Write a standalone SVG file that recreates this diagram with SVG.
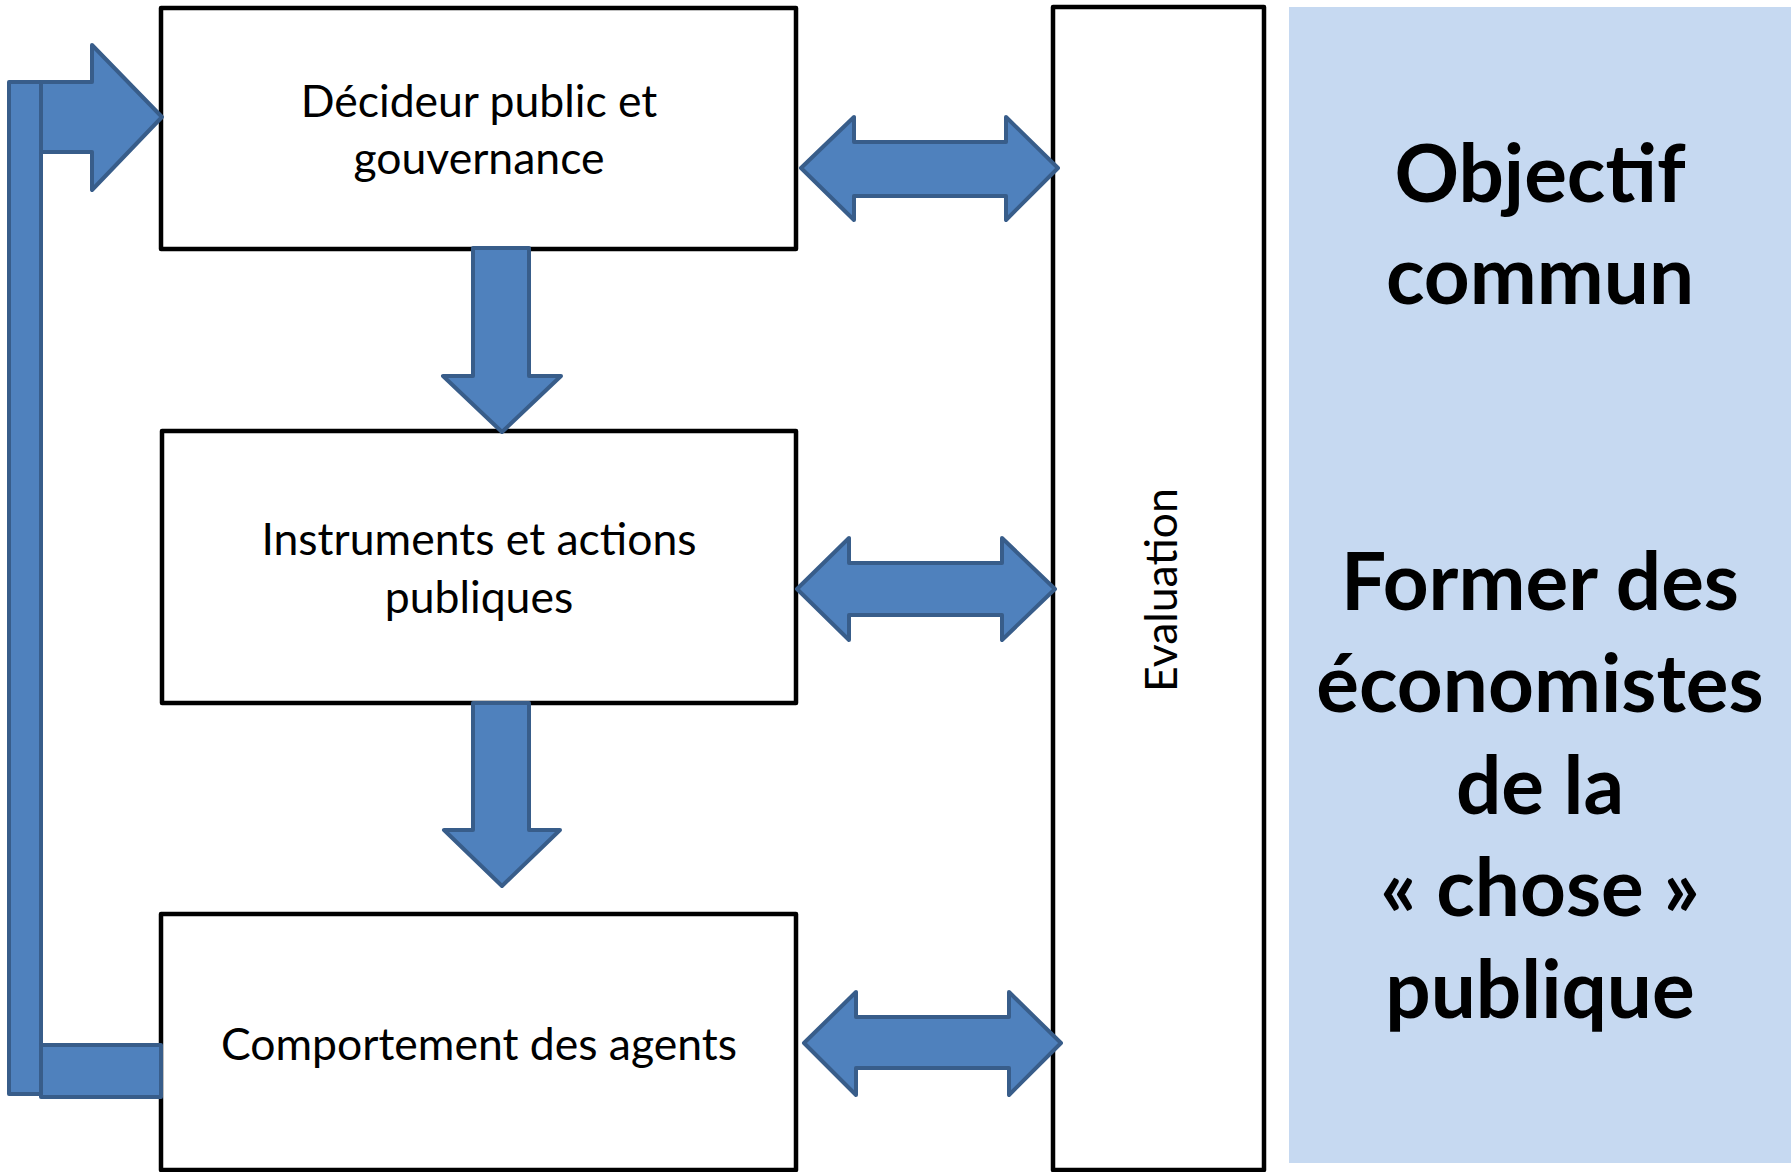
<svg xmlns="http://www.w3.org/2000/svg" width="1792" height="1172" viewBox="0 0 1792 1172">
<style>
.box{fill:#ffffff;stroke:#000000;stroke-width:4.5;stroke-linejoin:round}
.arr{fill:#4F81BD;stroke:#385D8A;stroke-width:4;stroke-linejoin:round}
.t{font-family:Lato,"Open Sans",sans-serif;font-size:44.5px;fill:#000000;text-anchor:middle}
.b{font-family:Lato,"Open Sans",sans-serif;font-size:80px;font-weight:bold;fill:#000000;text-anchor:middle}
</style>
<rect width="1792" height="1172" fill="#ffffff"/>
<g id="objectif">
<rect x="1289" y="7" width="502" height="1156" fill="#C6D9F1"/>
<text class="b" x="1540" y="202">Objectif</text>
<text class="b" x="1540" y="304">commun</text>
<text class="b" x="1540" y="610">Former des</text>
<text class="b" x="1540" y="712">économistes</text>
<text class="b" x="1540" y="814">de la</text>
<text class="b" x="1540" y="916">« chose »</text>
<text class="b" x="1540" y="1018">publique</text>
</g>
<g id="decideur">
<rect class="box" x="161" y="8" width="635" height="241"/>
<text class="t" x="479" y="117">Décideur public et</text>
<text class="t" x="479" y="174">gouvernance</text>
</g>
<g id="instruments">
<rect class="box" x="162" y="431" width="634" height="272"/>
<text class="t" x="479" y="555">Instruments et actions</text>
<text class="t" x="479" y="613">publiques</text>
</g>
<g id="comportement">
<rect class="box" x="161" y="914" width="635" height="256"/>
<text class="t" x="479" y="1060">Comportement des agents</text>
</g>
<g id="evaluation">
<rect class="box" x="1053" y="7" width="211" height="1163"/>
<text class="t" x="1177" y="590" transform="rotate(-90 1177 590)">Evaluation</text>
</g>
<g id="connectors">
<rect class="arr" x="9" y="82" width="32" height="1012"/>
<rect class="arr" x="41" y="1045" width="120" height="52"/>
<polygon class="arr" points="41,82 92,82 92,45 162,117 92,190 92,152 41,152"/>
<polygon class="arr" points="473,248 529,248 529,376 561,376 502,432 443,376 473,376"/>
<polygon class="arr" points="473,703 529,703 529,830 560,830 502,886 444,830 473,830"/>
<polygon class="arr" points="801,168 854,117 854,142 1006,142 1006,117 1058,168 1006,220 1006,196 854,196 854,220"/>
<polygon class="arr" points="797,589 849,538 849,563 1002,563 1002,538 1055,589 1002,640 1002,615 849,615 849,640"/>
<polygon class="arr" points="804,1043 856,992 856,1017 1009,1017 1009,992 1061,1043 1009,1095 1009,1068 856,1068 856,1095"/>
</g>
</svg>
